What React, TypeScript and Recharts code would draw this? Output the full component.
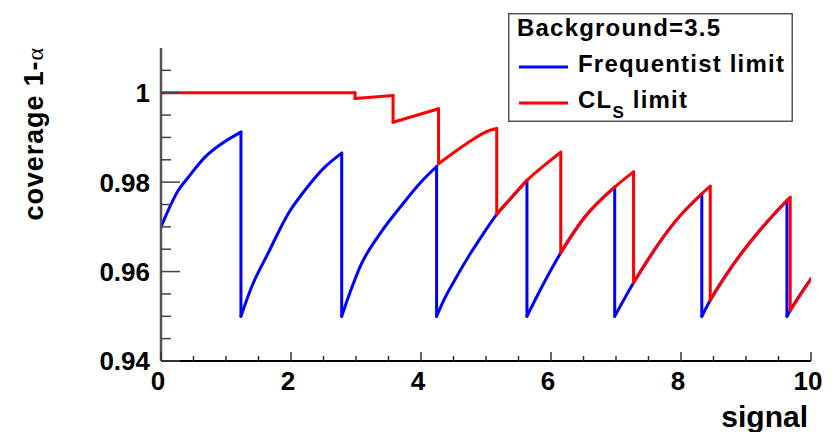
import React from "react";
import { LineChart, Line, XAxis, YAxis, Legend, Label } from "recharts";

// values; a repeated x marks a vertical drop
const freqSignal = [
  0, 0.267, 0.42, 0.677, 0.933, 1.23,
  1.23, 1.395, 1.651, 1.959, 2.215, 2.523, 2.78,
  2.78, 2.93, 3.06, 3.37, 3.68, 3.98, 4.24,
  4.24, 4.34, 4.55, 4.75, 4.96, 5.165, 5.42, 5.63,
  5.63, 5.86, 6.15, 6.52, 6.98,
  6.98, 7.27, 7.52, 7.9, 8.32,
  8.32, 8.45, 8.8, 9.2, 9.63,
  9.63, 9.68, 10,
];
const freqCoverage = [
  0.97, 0.9782, 0.9811, 0.9856, 0.9886, 0.9912,
  0.95, 0.9566, 0.9642, 0.973, 0.9782, 0.9834, 0.9865,
  0.95, 0.9562, 0.961, 0.9685, 0.9744, 0.9797, 0.9835,
  0.95, 0.9533, 0.9589, 0.9638, 0.9685, 0.9728, 0.977, 0.9804,
  0.95, 0.9566, 0.9642, 0.9722, 0.9789,
  0.95, 0.9575, 0.9633, 0.971, 0.9774,
  0.95, 0.9536, 0.9615, 0.969, 0.9759,
  0.95, 0.9513, 0.9584,
];
const clsSignal = [
  0, 2.985, 2.985, 3.57, 3.57, 4.27,
  4.27, 4.7, 5.06, 5.165,
  5.165, 5.42, 5.63, 5.9, 6.15,
  6.15, 6.52, 6.98, 7.27,
  7.27, 7.52, 7.9, 8.32, 8.45,
  8.45, 8.8, 9.2, 9.63, 9.68,
  9.68, 10,
];
const clsCoverage = [
  1, 1, 0.9987, 0.9994, 0.9934, 0.9964,
  0.9841, 0.9886, 0.9916, 0.992,
  0.9728, 0.977, 0.9804, 0.9838, 0.9867,
  0.9642, 0.9722, 0.9789, 0.9823,
  0.9575, 0.9633, 0.971, 0.9774, 0.9791,
  0.9536, 0.9615, 0.969, 0.9759, 0.9766,
  0.9513, 0.9584,
];

const xTicks = [0, 0.5, 1, 1.5, 2, 2.5, 3, 3.5, 4, 4.5, 5, 5.5, 6, 6.5, 7, 7.5, 8, 8.5, 9, 9.5, 10];
const xLabels = [0, 2, 4, 6, 8, 10];
const yTicks = [0.94, 0.945, 0.95, 0.955, 0.96, 0.965, 0.97, 0.975, 0.98, 0.985, 0.99, 0.995, 1, 1.005];
const yLabels = [0.94, 0.96, 0.98, 1];
const legendTitle = "Background=3.5";
const seriesNames = ["Frequentist limit", "CL_S limit"];

type Pt = { x: number; y?: number | null; drop?: number | null };

// rising parts (broken with nulls) and the vertical drops between them
const splitSeries = (xs: number[], ys: number[]) => {
  const rise: Pt[] = [];
  const drops: Pt[] = [];
  xs.forEach((x, i) => {
    if (i > 0 && x === xs[i - 1]) {
      rise.push({ x, y: null });
      drops.push({ x, drop: ys[i - 1] }, { x, drop: ys[i] }, { x, drop: null });
    }
    rise.push({ x, y: ys[i] });
  });
  return { rise, drops };
};

const freq = splitSeries(freqSignal, freqCoverage);
const cls = splitSeries(clsSignal, clsCoverage);

const FONT = '"Liberation Sans", Arial, Helvetica, sans-serif';

const isIn = (list: number[], v: number) => list.some((l) => Math.abs(l - v) < 1e-6);

const XTick = (props: any) => {
  const { x, y, payload } = props;
  const major = isIn(xLabels, payload.value);
  return (
    <g>
      <line x1={x} x2={x} y1={y} y2={y - (major ? 9 : 5)} stroke="#333" strokeWidth={1.5} />
      {major && (
        <text x={x - 3} y={y + 29} textAnchor="middle" fontFamily={FONT} fontWeight="bold" fontSize={26} fill="#000">
          {payload.value}
        </text>
      )}
    </g>
  );
};

const YTick = (props: any) => {
  const { x, y, payload } = props;
  const major = isIn(yLabels, payload.value);
  return (
    <g>
      <line x1={x} x2={x + (major ? 19 : 10)} y1={y} y2={y} stroke="#444" strokeWidth={1.5} />
      {major && (
        <text x={x - 11} y={y} dy="0.36em" textAnchor="end" fontFamily={FONT} fontWeight="bold" fontSize={26} fill="#000">
          {payload.value}
        </text>
      )}
    </g>
  );
};

const renderLegend = (props: any) => {
  const items = (props.payload || [])
    .filter((item: any) => seriesNames.includes(item.value))
    .sort((a: any, b: any) => seriesNames.indexOf(a.value) - seriesNames.indexOf(b.value));
  return (
    <svg width={285} height={109} style={{ display: "block" }}>
      <rect x={0.75} y={0.75} width={283.5} height={107.5} fill="#fff" stroke="#555" strokeWidth={1.5} />
      <text x={9} y={23} fontFamily={FONT} fontWeight="bold" fontSize={24} letterSpacing={1.2} fill="#000">
        {legendTitle}
      </text>
      {items.map((item: any, i: number) => {
        const cy = 54 + i * 36;
        const m = /^(.*)_(\w)(.*)$/.exec(item.value);
        return (
          <g key={item.value}>
            <line x1={11} x2={60} y1={cy} y2={cy} stroke={item.color} strokeWidth={3} />
            <text x={70} y={cy + 5} fontFamily={FONT} fontWeight="bold" fontSize={24} letterSpacing={1.2} fill="#000">
              {m ? (
                <>
                  {m[1]}
                  <tspan fontSize={17} dy={10}>{m[2]}</tspan>
                  <tspan dy={-10}>{m[3]}</tspan>
                </>
              ) : (
                item.value
              )}
            </text>
          </g>
        );
      })}
    </svg>
  );
};

export default function App() {
  return (
    <div style={{ position: "absolute", left: 0, top: 0, background: "#fff" }}>
      <LineChart width={834} height={432} margin={{ top: 48, right: 23, bottom: 0, left: 0 }}>
        <XAxis
          xAxisId={0}
          dataKey="x"
          type="number"
          domain={[0, 10]}
          ticks={xTicks}
          interval={0}
          allowDataOverflow
          height={71}
          tickSize={0}
          tickMargin={0}
          tick={<XTick />}
          axisLine={{ stroke: "#000", strokeWidth: 2 }}
        >
          <Label
            content={() => (
              <text x={808} y={427} textAnchor="end" fontFamily={FONT} fontWeight="bold" fontSize={30} fill="#000">
                signal
              </text>
            )}
          />
        </XAxis>
        <XAxis xAxisId="top" orientation="top" type="number" domain={[0, 10]} height={0} tick={false} tickLine={false} axisLine={{ stroke: "#333", strokeWidth: 1.2 }} />
        <YAxis
          yAxisId={0}
          type="number"
          domain={[0.94, 1.01]}
          ticks={yTicks}
          interval={0}
          allowDataOverflow
          width={161}
          tickSize={0}
          tickMargin={0}
          tick={<YTick />}
          axisLine={{ stroke: "#555", strokeWidth: 2.5 }}
        >
          <Label
            content={() => (
              <text x={43} y={47} transform="rotate(-90, 43, 47)" textAnchor="end" fontFamily={FONT} fontWeight="bold" fontSize={27} letterSpacing={0.9} fill="#000">
                coverage 1-
                <tspan fontWeight="normal" fontFamily='"Liberation Serif", serif' fontSize={24}>α</tspan>
              </text>
            )}
          />
        </YAxis>
        <YAxis yAxisId="right" orientation="right" type="number" domain={[0.94, 1.01]} width={0} tick={false} tickLine={false} axisLine={{ stroke: "#333", strokeWidth: 1.5 }} />
        <Legend
          layout="vertical"
          align="center"
          verticalAlign="middle"
          content={renderLegend}
          wrapperStyle={{ position: "absolute", left: 508, top: 13, width: 285, height: 109, lineHeight: 0 }}
        />
        <Line
          data={freq.rise}
          dataKey="y"
          name="Frequentist limit"
          type="monotone"
          stroke="#0000ff"
          strokeWidth={3}
          strokeLinecap="round"
          dot={false}
          isAnimationActive={false}
          legendType="line"
        />
        <Line
          data={freq.drops}
          dataKey="drop"
          name="Frequentist drops"
          type="linear"
          stroke="#0000ff"
          strokeWidth={3}
          strokeLinecap="round"
          dot={false}
          isAnimationActive={false}
          legendType="none"
        />
        <Line
          data={cls.rise}
          dataKey="y"
          name="CL_S limit"
          type="monotone"
          stroke="#ff0000"
          strokeWidth={3}
          strokeLinecap="round"
          dot={false}
          isAnimationActive={false}
          legendType="line"
        />
        <Line
          data={cls.drops}
          dataKey="drop"
          name="CL_S drops"
          type="linear"
          stroke="#ff0000"
          strokeWidth={3}
          strokeLinecap="round"
          dot={false}
          isAnimationActive={false}
          legendType="none"
        />
      </LineChart>
    </div>
  );
}
